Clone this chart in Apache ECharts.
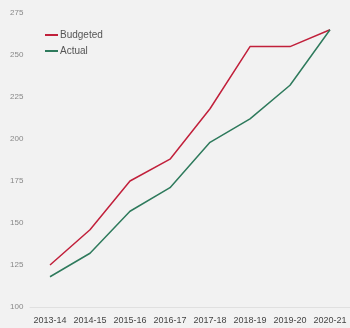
<!DOCTYPE html>
<html>
<head>
<meta charset="utf-8">
<script src="https://cdn.jsdelivr.net/npm/echarts@6/dist/echarts.min.js"></script>
<style>
  html, body { margin: 0; padding: 0; background: #f2f2f2; }
  #chart { width: 350px; height: 328px; }
</style>
</head>
<body>
<div id="chart"></div>
<script>
var years = ['2013-14', '2014-15', '2015-16', '2016-17', '2017-18', '2018-19', '2019-20', '2020-21'];
var budgeted = [125, 146, 175, 188, 218, 255, 255, 265];
var actual = [118, 132, 157, 171, 198, 212, 232, 265];
var yTicks = [100, 125, 150, 175, 200, 225, 250, 275];

var font = '"Liberation Sans Narrow", "Liberation Sans", Arial, sans-serif';
var chart = echarts.init(document.getElementById('chart'));

var option = {
    backgroundColor: '#f2f2f2',
    animation: false,
    grid: { left: 30, right: 0, top: 13, bottom: 21 },
    legend: {
        orient: 'vertical',
        left: 40,
        top: 25,
        itemWidth: 13,
        itemHeight: 2,
        itemGap: 6,
        icon: 'rect',
        textStyle: { fontFamily: font, fontSize: 10, color: '#555', padding: [0, 0, 0, -3] },
        data: ['Budgeted', 'Actual']
    },
    xAxis: {
        type: 'category',
        data: years,
        boundaryGap: true,
        axisLine: { lineStyle: { color: '#e0e0e0' } },
        axisTick: { show: false },
        axisLabel: { fontFamily: font, fontSize: 9, color: '#444', margin: 9, interval: 0 }
    },
    yAxis: {
        type: 'value',
        min: yTicks[0],
        max: yTicks[yTicks.length - 1],
        interval: 25,
        axisLine: { show: false },
        axisTick: { show: false },
        splitLine: { show: false },
        axisLabel: { fontFamily: font, fontSize: 8, color: '#888', align: 'left', margin: 20 }
    },
    series: [
        {
            name: 'Budgeted',
            type: 'line',
            data: budgeted,
            symbol: 'none',
            color: '#c1203b',
            lineStyle: { width: 1.5 }
        },
        {
            name: 'Actual',
            type: 'line',
            data: actual,
            symbol: 'none',
            color: '#2e7a5c',
            lineStyle: { width: 1.5 }
        }
    ]
};
chart.setOption(option);
</script>
</body>
</html>
